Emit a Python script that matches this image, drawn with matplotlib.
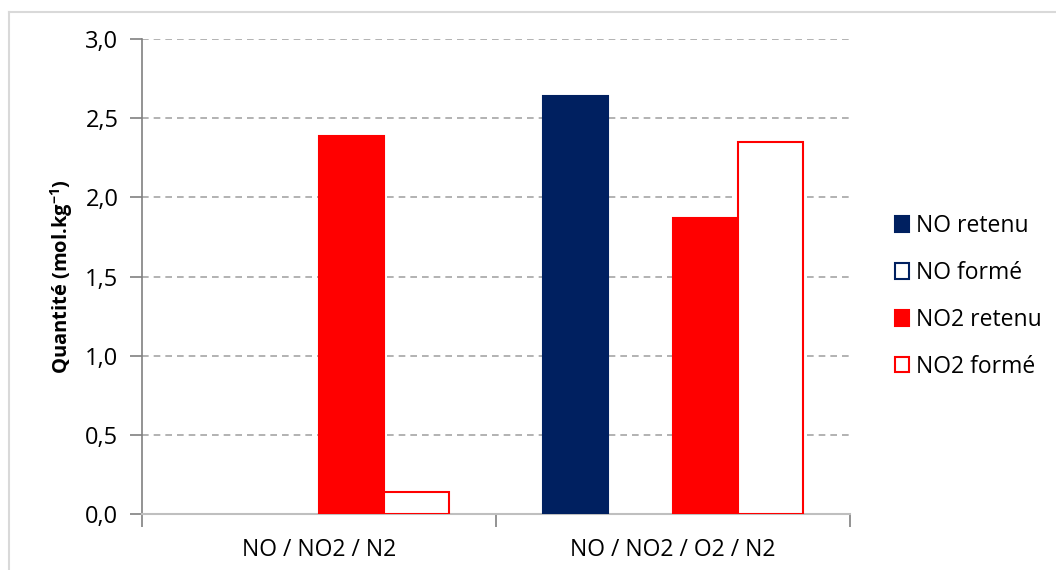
import numpy as np
import matplotlib.pyplot as plt
from matplotlib.lines import Line2D
from matplotlib.patches import Patch

plt.rcParams['font.family'] = ['Open Sans', 'DejaVu Sans']

categories = ['NO / NO2 / N2', 'NO / NO2 / O2 / N2']
series = ['NO retenu', 'NO formé', 'NO2 retenu', 'NO2 formé']
no_retenu = [0.0, 2.64]
no_forme = [0.0, 0.0]
no2_retenu = [2.39, 1.87]
no2_forme = [0.14, 2.35]
y_ticks = [0.0, 0.5, 1.0, 1.5, 2.0, 2.5, 3.0]

NAVY = '#002060'
RED = '#ff0000'
styles = [
    dict(facecolor=NAVY, edgecolor=NAVY),
    dict(facecolor='white', edgecolor=NAVY),
    dict(facecolor=RED, edgecolor=RED),
    dict(facecolor='white', edgecolor=RED),
]

fig = plt.figure(figsize=(10.56, 5.70), dpi=100)
ax = fig.add_axes([142 / 1056, 1 - 514 / 570, (850 - 142) / 1056, (514 - 39) / 570])

# light frame of the original chart area
fig.add_artist(Line2D([9 / 1056, 1], [1 - 12 / 570] * 2, color='#d9d9d9', lw=1.5))
fig.add_artist(Line2D([9 / 1056] * 2, [0, 1 - 12 / 570], color='#d9d9d9', lw=1.5))

x = np.arange(len(categories))
w = 0.183
for i, (vals, st) in enumerate(zip([no_retenu, no_forme, no2_retenu, no2_forme], styles)):
    bars = ax.bar(x + (i - 1.5) * w, vals, w, linewidth=1.5, zorder=3, **st)
    for b, v in zip(bars, vals):
        if v == 0:
            b.set_visible(False)

ax.set_xlim(-0.5, 1.5)
ax.set_ylim(0, 3.0)
ax.set_yticks(y_ticks)
ax.set_yticklabels([f'{t:.1f}'.replace('.', ',') for t in y_ticks], fontsize=17)
ax.set_xticks(x)
ax.set_xticklabels(categories, fontsize=16.5)
ax.set_xticks([-0.5, 0.5, 1.5], minor=True)
ax.tick_params(axis='x', which='major', length=0, pad=17)
ax.tick_params(axis='x', which='minor', length=9, color='#808080', width=1.2)
ax.tick_params(axis='y', length=9, color='#808080', width=1.2, pad=8)

ax.grid(axis='y', linestyle=(0, (4, 3)), color='#a6a6a6', linewidth=1.2, zorder=0)
for s in ['top', 'right']:
    ax.spines[s].set_visible(False)
ax.spines['left'].set_color('#808080')
ax.spines['left'].set_linewidth(1.2)
ax.spines['bottom'].set_color('#bfbfbf')
ax.spines['bottom'].set_linewidth(1.5)

ax.set_ylabel('Quantité (mol.kg$^{\\mathregular{-1}}$)', fontsize=14.5, fontweight='bold', labelpad=7)

handles = [Patch(linewidth=1.5, label=name, **st) for name, st in zip(series, styles)]
ax.legend(handles=handles, loc='center left', bbox_to_anchor=(1.05, 0.458), frameon=False,
          fontsize=16.5, handlelength=0.65, handleheight=0.65, handletextpad=0.3,
          labelspacing=1.0, borderaxespad=0)

fig.savefig('out.png', dpi=100)
